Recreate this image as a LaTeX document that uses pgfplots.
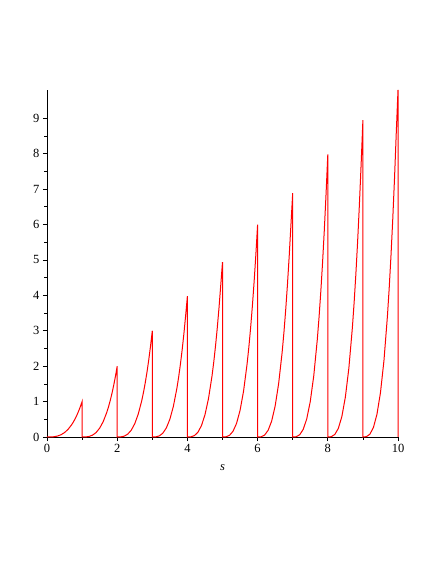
\documentclass[border=0pt]{standalone}
\usepackage{pgfplots}
\pgfplotsset{compat=1.18}
\usepackage{fontspec}
\setmainfont{Liberation Serif}
\begin{document}
\begin{tikzpicture}
\path (-47pt,-127pt) rectangle (389pt,437pt);
\begin{axis}[at={(0,0)}, anchor=south west,
  scale only axis, width=351pt, height=347pt,
  xmin=0, xmax=10, ymin=0, ymax=9.8,
  axis lines*=left,
  axis line style={black, line width=0.9pt},
  tick align=outside,
  major tick length=4pt, minor tick length=2.5pt,
  every tick/.style={black, line width=0.7pt},
  xtick={0,2,4,6,8,10}, ytick={0,1,...,9},
  minor x tick num=1, minor y tick num=1,
  /pgf/number format/assume math mode=true,
  tick label style={font=\fontsize{12.5}{14}\selectfont},
  xlabel={\fontsize{12.5}{14}\selectfont\itshape s},
  every axis x label/.style={at={(axis cs:5,0)}, anchor=center, yshift=-31pt},
  clip=false,
]
\addplot[red, line width=1pt] coordinates {
(0,0) (0.1,0.001) (0.2,0.008) (0.3,0.027) (0.4,0.064) (0.5,0.125) (0.6,0.216) (0.7,0.343) (0.75,0.422) (0.8,0.512) (0.85,0.614) (0.9,0.729) (0.95,0.857) (1,1.0) (1,0)
(1.1,0.002) (1.2,0.016) (1.3,0.054) (1.4,0.128) (1.5,0.25) (1.6,0.432) (1.7,0.686) (1.75,0.844) (1.8,1.024) (1.85,1.228) (1.9,1.458) (1.95,1.715) (2,2.0) (2,0)
(2.1,0.003) (2.2,0.024) (2.3,0.081) (2.4,0.192) (2.5,0.375) (2.6,0.648) (2.7,1.029) (2.75,1.266) (2.8,1.536) (2.85,1.842) (2.9,2.187) (2.95,2.572) (3,3.0) (3,0)
(3.1,0.004) (3.2,0.032) (3.3,0.108) (3.4,0.256) (3.5,0.5) (3.6,0.864) (3.7,1.372) (3.75,1.688) (3.8,2.048) (3.85,2.456) (3.9,2.916) (3.95,3.43) (4,3.98) (4,0)
(4.1,0.005) (4.2,0.04) (4.3,0.135) (4.4,0.32) (4.5,0.625) (4.6,1.08) (4.7,1.715) (4.75,2.109) (4.8,2.56) (4.85,3.07) (4.9,3.645) (4.95,4.287) (5,4.94) (5,0)
(5.1,0.006) (5.2,0.048) (5.3,0.162) (5.4,0.384) (5.5,0.75) (5.6,1.296) (5.7,2.058) (5.75,2.531) (5.8,3.072) (5.85,3.685) (5.9,4.374) (5.95,5.144) (6,6.0) (6,0)
(6.1,0.007) (6.2,0.056) (6.3,0.189) (6.4,0.448) (6.5,0.875) (6.6,1.512) (6.7,2.401) (6.75,2.953) (6.8,3.584) (6.85,4.299) (6.9,5.103) (6.95,6.002) (7,6.89) (7,0)
(7.1,0.008) (7.2,0.064) (7.3,0.216) (7.4,0.512) (7.5,1.0) (7.6,1.728) (7.7,2.744) (7.75,3.375) (7.8,4.096) (7.85,4.913) (7.9,5.832) (7.95,6.859) (8,7.98) (8,0)
(8.1,0.009) (8.2,0.072) (8.3,0.243) (8.4,0.576) (8.5,1.125) (8.6,1.944) (8.7,3.087) (8.75,3.797) (8.8,4.608) (8.85,5.527) (8.9,6.561) (8.95,7.717) (9,8.95) (9,0)
(9.1,0.01) (9.2,0.08) (9.3,0.27) (9.4,0.64) (9.5,1.25) (9.6,2.16) (9.7,3.43) (9.75,4.219) (9.8,5.12) (9.85,6.141) (9.9,7.29) (9.95,8.574) (10,9.8) (10,0)
};
\end{axis}
\end{tikzpicture}
\end{document}
